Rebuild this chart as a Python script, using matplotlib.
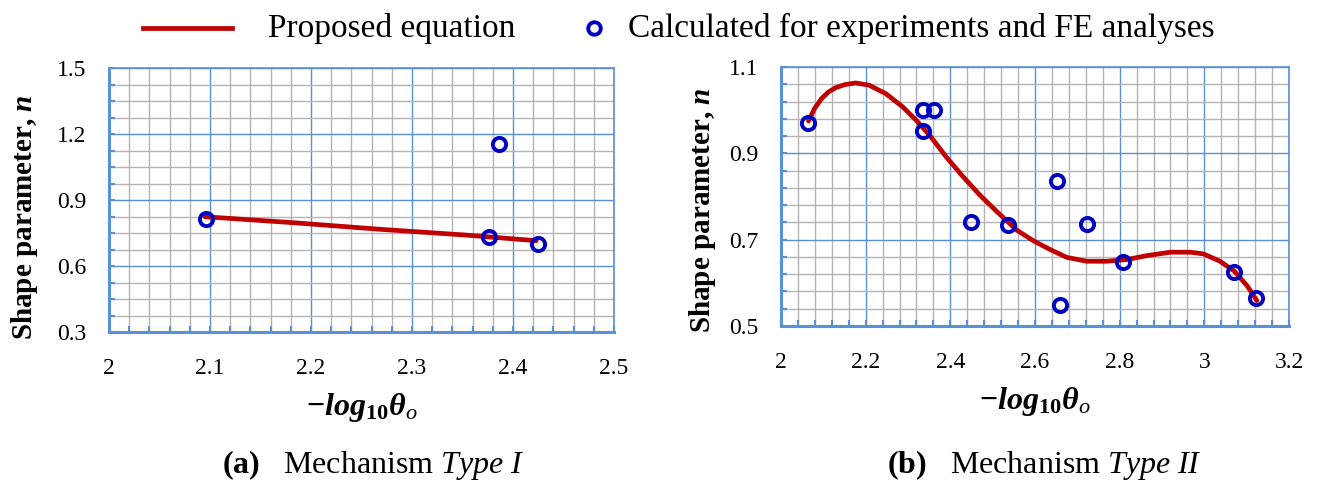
import numpy as np
import matplotlib
matplotlib.use('Agg')
import matplotlib.pyplot as plt
from matplotlib.lines import Line2D
from matplotlib.ticker import AutoMinorLocator

plt.rcParams['font.family'] = ['Liberation Serif', 'DejaVu Serif']
plt.rcParams['mathtext.fontset'] = 'custom'
plt.rcParams['mathtext.rm'] = 'Liberation Serif'
plt.rcParams['mathtext.it'] = 'Liberation Serif:italic'
plt.rcParams['mathtext.bf'] = 'Liberation Serif:bold'
plt.rcParams['mathtext.bfit'] = 'Liberation Serif:bold:italic'

# (a) Mechanism Type I
a_pts_x = [2.096, 2.376, 2.386, 2.425]
a_pts_y = [0.813, 0.733, 1.155, 0.700]
a_eq_x = [2.095, 2.185, 2.268, 2.352, 2.423]
a_eq_y = [0.824, 0.796, 0.767, 0.741, 0.715]

# (b) Mechanism Type II
b_pts_x = [2.064, 2.335, 2.335, 2.361, 2.449, 2.537, 2.652, 2.659, 2.722, 2.808, 3.070, 3.123]
b_pts_y = [0.970, 0.952, 1.000, 1.000, 0.740, 0.734, 0.835, 0.549, 0.737, 0.648, 0.625, 0.566]
b_eq_x = [2.065, 2.080, 2.096, 2.112, 2.129, 2.150, 2.176, 2.208, 2.248, 2.287, 2.319,
          2.351, 2.390, 2.430, 2.470, 2.510, 2.557, 2.597, 2.636, 2.675, 2.722,
          2.770, 2.817, 2.864, 2.920, 2.967, 2.998, 3.037, 3.071, 3.102, 3.124]
b_eq_y = [0.975, 1.005, 1.027, 1.042, 1.052, 1.059, 1.063, 1.058, 1.038, 1.008, 0.977,
          0.942, 0.892, 0.846, 0.803, 0.765, 0.722, 0.697, 0.677, 0.659, 0.650,
          0.650, 0.654, 0.663, 0.671, 0.671, 0.667, 0.650, 0.627, 0.592, 0.559]

red = '#c00000'
blue = '#0000c0'
axblue = '#5b8fd6'
W, H = 1317, 482

fig = plt.figure(figsize=(W / 100, H / 100), dpi=100)


def box(l, t, r, b):
    return [l / W, 1 - b / H, (r - l) / W, (b - t) / H]


def style(ax, xlim, ylim, xsub, ysub, xticks, yticks):
    ax.set_xlim(*xlim)
    ax.set_ylim(*ylim)
    ax.set_xticks(xticks)
    ax.set_yticks(yticks)
    ax.set_xticklabels(['%g' % v for v in xticks])
    ax.set_yticklabels(['%g' % v for v in yticks])
    ax.xaxis.set_minor_locator(AutoMinorLocator(xsub))
    ax.yaxis.set_minor_locator(AutoMinorLocator(ysub))
    ax.set_axisbelow(True)
    ax.grid(which='minor', color='#b4b4b4', lw=1.0)
    ax.grid(which='major', color=axblue, lw=1.0)
    for s in ['left', 'bottom']:
        ax.spines[s].set_color(axblue)
        ax.spines[s].set_linewidth(2.2)
    for s in ['top', 'right']:
        ax.spines[s].set_color(axblue)
        ax.spines[s].set_linewidth(1.2)
    ax.tick_params(which='both', direction='in', color=axblue, width=1.5, length=4,
                   labelsize=17, labelcolor='black')
    ax.tick_params(axis='x', which='major', pad=19)
    ax.tick_params(axis='y', which='major', pad=16)
    ax.set_xlabel(r'$\mathbf{-}\mathbfit{log}_{\mathbf{10}}\mathbfit{\theta}_{\mathit{o}}$',
                  fontsize=23, labelpad=8)
    ax.set_ylabel(r'Shape parameter, $\mathbfit{n}$', fontsize=21, fontweight='bold')


ax1 = fig.add_axes(box(109, 68, 614, 332))
ax1.plot(a_eq_x, a_eq_y, color=red, lw=3.4, zorder=3, solid_capstyle='round')
ax1.plot(a_pts_x, a_pts_y, 'o', mfc='none', mec=blue, mew=2.8, ms=9.5, zorder=4)
style(ax1, (2, 2.5), (0.3, 1.5), 5, 4,
      [2, 2.1, 2.2, 2.3, 2.4, 2.5], [0.3, 0.6, 0.9, 1.2, 1.5])
ax1.yaxis.set_label_coords((40 - 109) / 505, (332 - 217) / 264)

ax2 = fig.add_axes(box(781, 67, 1289, 326))
ax2.plot(b_eq_x, b_eq_y, color=red, lw=3.4, zorder=3, solid_capstyle='round',
         solid_joinstyle='round')
ax2.plot(b_pts_x, b_pts_y, 'o', mfc='none', mec=blue, mew=2.8, ms=9.5, zorder=4)
style(ax2, (2, 3.2), (0.5, 1.1), 5, 5,
      [2, 2.2, 2.4, 2.6, 2.8, 3, 3.2], [0.5, 0.7, 0.9, 1.1])
ax2.yaxis.set_label_coords((718 - 781) / 508, (326 - 210) / 259)

# legend
ly = 1 - 28 / H
fig.add_artist(Line2D([143 / W, 232 / W], [ly, ly], color=red, lw=3.4, transform=fig.transFigure))
fig.text(268 / W, ly, 'Proposed equation', fontsize=24, va='center', ha='left')
fig.add_artist(Line2D([594 / W], [ly], marker='o', mfc='none', mec=blue, mew=2.8, ms=9,
                      transform=fig.transFigure))
fig.text(628 / W, ly, 'Calculated for experiments and FE analyses', fontsize=24,
         va='center', ha='left')

# captions
cy = 1 - 465 / H
fig.text(373 / W, cy, r'$\mathbf{(a)}$   Mechanism $\mathit{Type\ I}$', fontsize=23,
         ha='center', va='center')
fig.text(1044 / W, cy, r'$\mathbf{(b)}$   Mechanism $\mathit{Type\ II}$', fontsize=23,
         ha='center', va='center')

fig.savefig('out.png', dpi=100)
